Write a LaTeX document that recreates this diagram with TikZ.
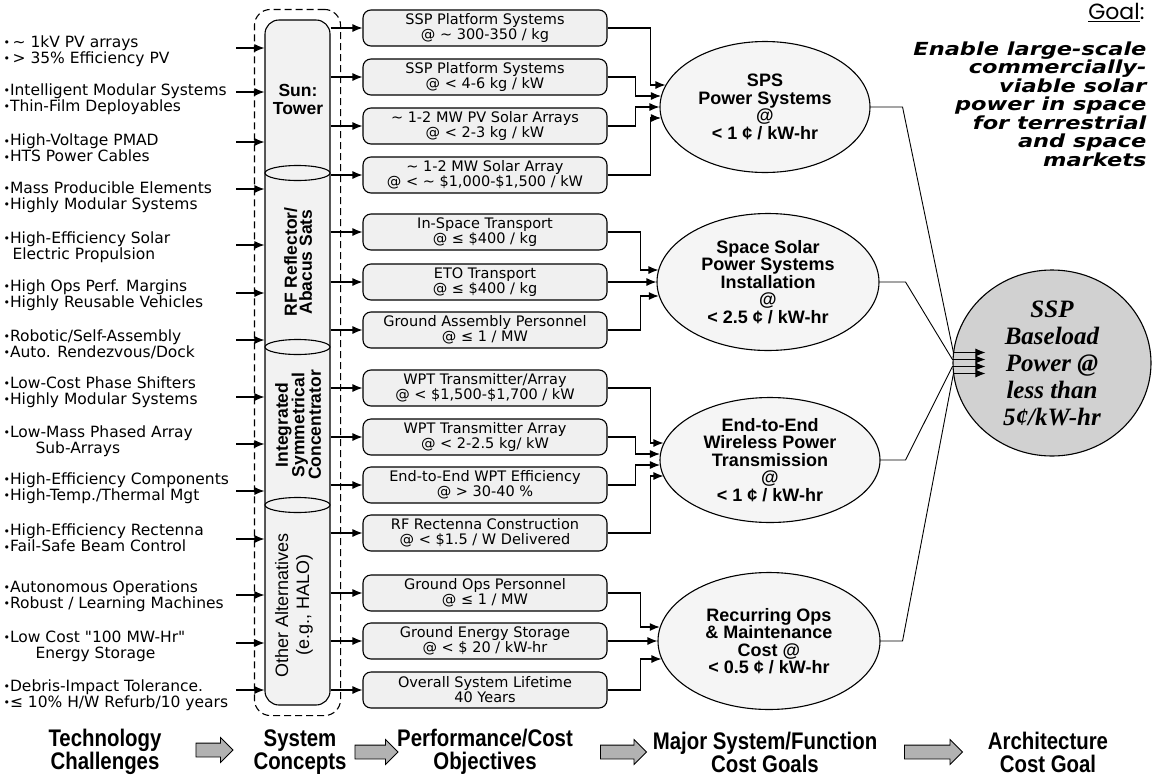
\documentclass[tikz,border=0pt]{standalone}
\usepackage{fontspec}
\setmainfont{Liberation Sans}
\newfontfamily\listfont{DejaVu Sans}
\newfontfamily\headfont{Liberation Sans}[FakeStretch=0.85]
\newfontfamily\aimfont{DejaVu Sans}[FakeStretch=1.25]
\newfontfamily\goalword{Poppins}
\newfontfamily\basefont{Liberation Serif}
\usetikzlibrary{shapes.geometric, shapes.arrows}
\usetikzlibrary{arrows.meta}
\usetikzlibrary{positioning}
\usetikzlibrary{calc}
\usetikzlibrary{fit}

\newcommand{\bul}{{\fontsize{11}{11}\selectfont\raisebox{0.5pt}{•}}}

\begin{document}
\begin{tikzpicture}[x=1pt, y=-1pt, line width=1.1pt, every node/.style={inner sep=0pt},
    tech/.style={anchor=west, align=left, font=\listfont\fontsize{15.5}{16}\selectfont},
    objbox/.style={draw, rounded corners=8pt, fill=black!6, minimum width=244pt, minimum height=36pt, align=center, font=\listfont\fontsize{14.5}{15}\selectfont},
    goal/.style={draw, ellipse, fill=black!4, align=center, font=\bfseries\fontsize{18}{17.5}\selectfont},
    joint/.style={draw, ellipse, fill=black!5, minimum width=65pt, minimum height=15pt},
    concept/.style={align=center, font=\bfseries\fontsize{17.5}{15}\selectfont},
    stage/.style={align=center, font=\headfont\bfseries\fontsize{24}{23}\selectfont},
    flow/.style={single arrow, draw, fill=black!30, line width=0.8pt, inner xsep=0pt, inner ysep=6.5pt, single arrow head extend=5.5pt},
    feed/.style={-{Latex[length=10pt,width=8pt]}}]
        \fill[white] (0,0) rectangle (1157,777);
        \useasboundingbox (0,0) rectangle (1157,777);

        % Technology challenges
        \node[tech] (t1) at (3,51) {\bul\,\textasciitilde\ 1kV PV arrays\\\bul\,> 35\% Efficiency PV};
        \node[tech] (t2) at (3,99) {\bul Intelligent Modular Systems\\\bul Thin-Film Deployables};
        \node[tech] (t3) at (3,148) {\bul High-Voltage PMAD\\\bul HTS Power Cables};
        \node[tech] (t4) at (3,197) {\bul Mass Producible Elements\\\bul Highly Modular Systems};
        \node[tech] (t5) at (3,247) {\bul High-Efficiency Solar\\\hspace*{9pt}Electric Propulsion};
        \node[tech] (t6) at (3,295) {\bul High Ops Perf. Margins\\\bul Highly Reusable Vehicles};
        \node[tech] (t7) at (3,344) {\bul Robotic/Self-Assembly\\\bul Auto. Rendezvous/Dock};
        \node[tech] (t8) at (3,392) {\bul Low-Cost Phase Shifters\\\bul Highly Modular Systems};
        \node[tech] (t9) at (3,441) {\bul Low-Mass Phased Array\\\hspace*{32pt}Sub-Arrays};
        \node[tech] (t10) at (3,488) {\bul High-Efficiency Components\\\bul High-Temp./Thermal Mgt};
        \node[tech] (t11) at (3,538) {\bul High-Efficiency Rectenna\\\bul Fail-Safe Beam Control};
        \node[tech] (t12) at (3,596) {\bul Autonomous Operations\\\bul Robust / Learning Machines};
        \node[tech] (t13) at (3,646) {\bul Low Cost "100 MW-Hr"\\\hspace*{32pt}Energy Storage};
        \node[tech] (t14) at (3,695) {\bul Debris-Impact Tolerance.\\\bul ≤ 10\% H/W Refurb/10 years};

        % System concepts column
        \node[draw, rounded corners=14pt, fill=black!5, minimum width=65pt, minimum height=685pt] (col) at (297.5,362.5) {};
        \node[draw, dash pattern=on 7pt off 4pt, rounded corners=16pt, fit=(col), inner sep=10pt] (grp) {};
        \foreach \y [count=\i] in {173,347,505}
          \node[joint] (j\i) at (297.5,\y) {};

        \node[concept, font=\bfseries\fontsize{17.5}{18}\selectfont] (sun) at (298,99) {Sun:\\Tower};
        \node[concept, rotate=90] (rf) at (298,262) {RF Reflector/\\Abacus Sats};
        \node[concept, rotate=90, font=\bfseries\fontsize{17.5}{16.5}\selectfont] (isc) at (298,425) {Integrated\\Symmetrical\\Concentrator};
        \node[concept, rotate=90, font=\fontsize{18}{21}\selectfont] (oth) at (294,605) {Other Alternatives\\(e.g., HALO)};

        % Arrows into the column
        \foreach \y [count=\i] in {48,92,142,189,245,293,340,397,444,491,539,595,643,690}
        {
          \coordinate (a\i) at (236,\y);
          \draw[feed] (a\i) -- (a\i -| col.west);
        }

        % Performance/cost objectives
        \node[objbox] (o1) at (485,28) {SSP Platform Systems\\@ \textasciitilde\ 300-350 / kg};
        \node[objbox] (o2) at (485,77) {SSP Platform Systems\\@ < 4-6 kg / kW};
        \node[objbox] (o3) at (485,126) {\textasciitilde\ 1-2 MW PV Solar Arrays\\@ < 2-3 kg / kW};
        \node[objbox] (o4) at (485,175) {\textasciitilde\ 1-2 MW Solar Array\\@ < \textasciitilde\ \$1,000-\$1,500 / kW};
        \node[objbox] (o5) at (485,232) {In-Space Transport\\@ ≤ \$400 / kg};
        \node[objbox] (o6) at (485,282) {ETO Transport\\@ ≤ \$400 / kg};
        \node[objbox] (o7) at (485,330) {Ground Assembly Personnel\\@ ≤ 1 / MW};
        \node[objbox] (o8) at (485,388) {WPT Transmitter/Array\\@ < \$1,500-\$1,700 / kW};
        \node[objbox] (o9) at (485,437) {WPT Transmitter Array\\@ < 2-2.5 kg/ kW};
        \node[objbox] (o10) at (485,485) {End-to-End WPT Efficiency\\@ > 30-40 \%};
        \node[objbox] (o11) at (485,533) {RF Rectenna Construction\\@ < \$1.5 / W Delivered};
        \node[objbox] (o12) at (485,593) {Ground Ops Personnel\\@ ≤ 1 / MW};
        \node[objbox] (o13) at (485,641) {Ground Energy Storage\\@ < \$ 20 / kW-hr};
        \node[objbox] (o14) at (485,690) {Overall System Lifetime\\40 Years};

        \foreach \i in {1,...,14}
          \draw[feed] (col.east |- o\i) -- (o\i.west);

        % Major system/function cost goals
        \node[goal, minimum width=210pt, minimum height=131pt] (g1) at (765,107) {SPS\\Power Systems\\@\\< 1 ¢ / kW-hr};
        \node[goal, minimum width=222pt, minimum height=137pt] (g2) at (768,282) {Space Solar\\Power Systems\\Installation\\@\\< 2.5 ¢ / kW-hr};
        \node[goal, minimum width=220pt, minimum height=125pt] (g3) at (770,460) {End-to-End\\Wireless Power\\Transmission\\@\\< 1 ¢ / kW-hr};
        \node[goal, minimum width=222pt, minimum height=137pt] (g4) at (769,641) {Recurring Ops\\\& Maintenance\\Cost @\\< 0.5 ¢ / kW-hr};

        \draw[feed] (o1.east) -- ++(43,0) |- ($(g1.west)+(6,-22)$);
        \draw[feed] (o2.east) -- ++(28,0) |- ($(g1.west)+(1.5,-11)$);
        \draw[feed] (o3.east) -- ++(28,0) |- (g1.west);
        \draw[feed] (o4.east) -- ++(43,0) |- ($(g1.west)+(1.5,11)$);

        \draw[feed] (o5.east) -- ++(33,0) |- ($(g2.west)+(2,-12)$);
        \draw[feed] (o6.east) -- (o6.east -| g2.west);
        \draw[feed] (o7.east) -- ++(33,0) |- ($(g2.west)+(2.3,14)$);

        \draw[feed] (o8.east) -- ++(43,0) |- ($(g3.west)+(4,-17)$);
        \draw[feed] (o9.east) -- ++(28,0) |- ($(g3.west)+(0.5,-6)$);
        \draw[feed] (o10.east) -- ++(28,0) |- ($(g3.west)+(0.5,5)$);
        \draw[feed] (o11.east) -- ++(43,0) |- ($(g3.west)+(4,16)$);

        \draw[feed] (o12.east) -- ++(33,0) |- ($(g4.west)+(2.3,-14)$);
        \draw[feed] (o13.east) -- (o13.east -| g4.west);
        \draw[feed] (o14.east) -- ++(33,0) |- ($(g4.west)+(4,18)$);

        % Architecture cost goal
        \node[draw, ellipse, fill=black!18, minimum width=198pt, minimum height=186pt, inner sep=-12pt, align=center, font=\basefont\bfseries\itshape\fontsize{25}{27}\selectfont] (arch) at (1052,363) {SSP\\Baseload\\Power @\\less than\\5¢/kW-hr};

        \draw[feed, line width=0.9pt] (g1.east) -- ++(32,0) -- ($(arch.west)+(1,-10.5)$) -- ++(32,0);
        \draw[feed, line width=0.9pt] (g2.east) -- ++(26,0) -- ($(arch.west)+(0,-3.5)$) -- ++(33,0);
        \draw[feed, line width=0.9pt] (g3.east) -- ++(25,0) -- ($(arch.west)+(0,3.5)$) -- ++(33,0);
        \draw[feed, line width=0.9pt] (g4.east) -- ++(22,0) -- ($(arch.west)+(1,10.5)$) -- ++(32,0);

        % Goal statement
        \node[anchor=north east, font=\goalword\fontsize{22}{22}\selectfont] (goal) at (1145,3) {\underline{Goal}:};
        \node[anchor=north east, align=right, font=\aimfont\bfseries\itshape\fontsize{18}{18.5}\selectfont] (aim) at (1147,41) {Enable large-scale\\commercially-\\viable solar\\power in space\\for terrestrial\\and space\\markets};

        % Stage labels along the bottom
        \node[stage] (s1) at (105,752) {Technology\\Challenges};
        \node[stage] (s2) at (300,752) {System\\Concepts};
        \node[stage] (s3) at (485,752) {Performance/Cost\\Objectives};
        \node[stage] (s4) at (765,752) {Major System/Function\\Cost Goals};
        \node[stage] (s5) at (1048,752) {Architecture\\Cost Goal};

        \node[flow, minimum height=37pt] (p1) at (211,750) {};
        \node[flow, minimum height=43pt] (p2) at (373,752) {};
        \node[flow, minimum height=46pt] (p3) at (620,752) {};
        \node[flow, minimum height=58pt] (p4) at (930,752) {};
      \end{tikzpicture}
\end{document}
